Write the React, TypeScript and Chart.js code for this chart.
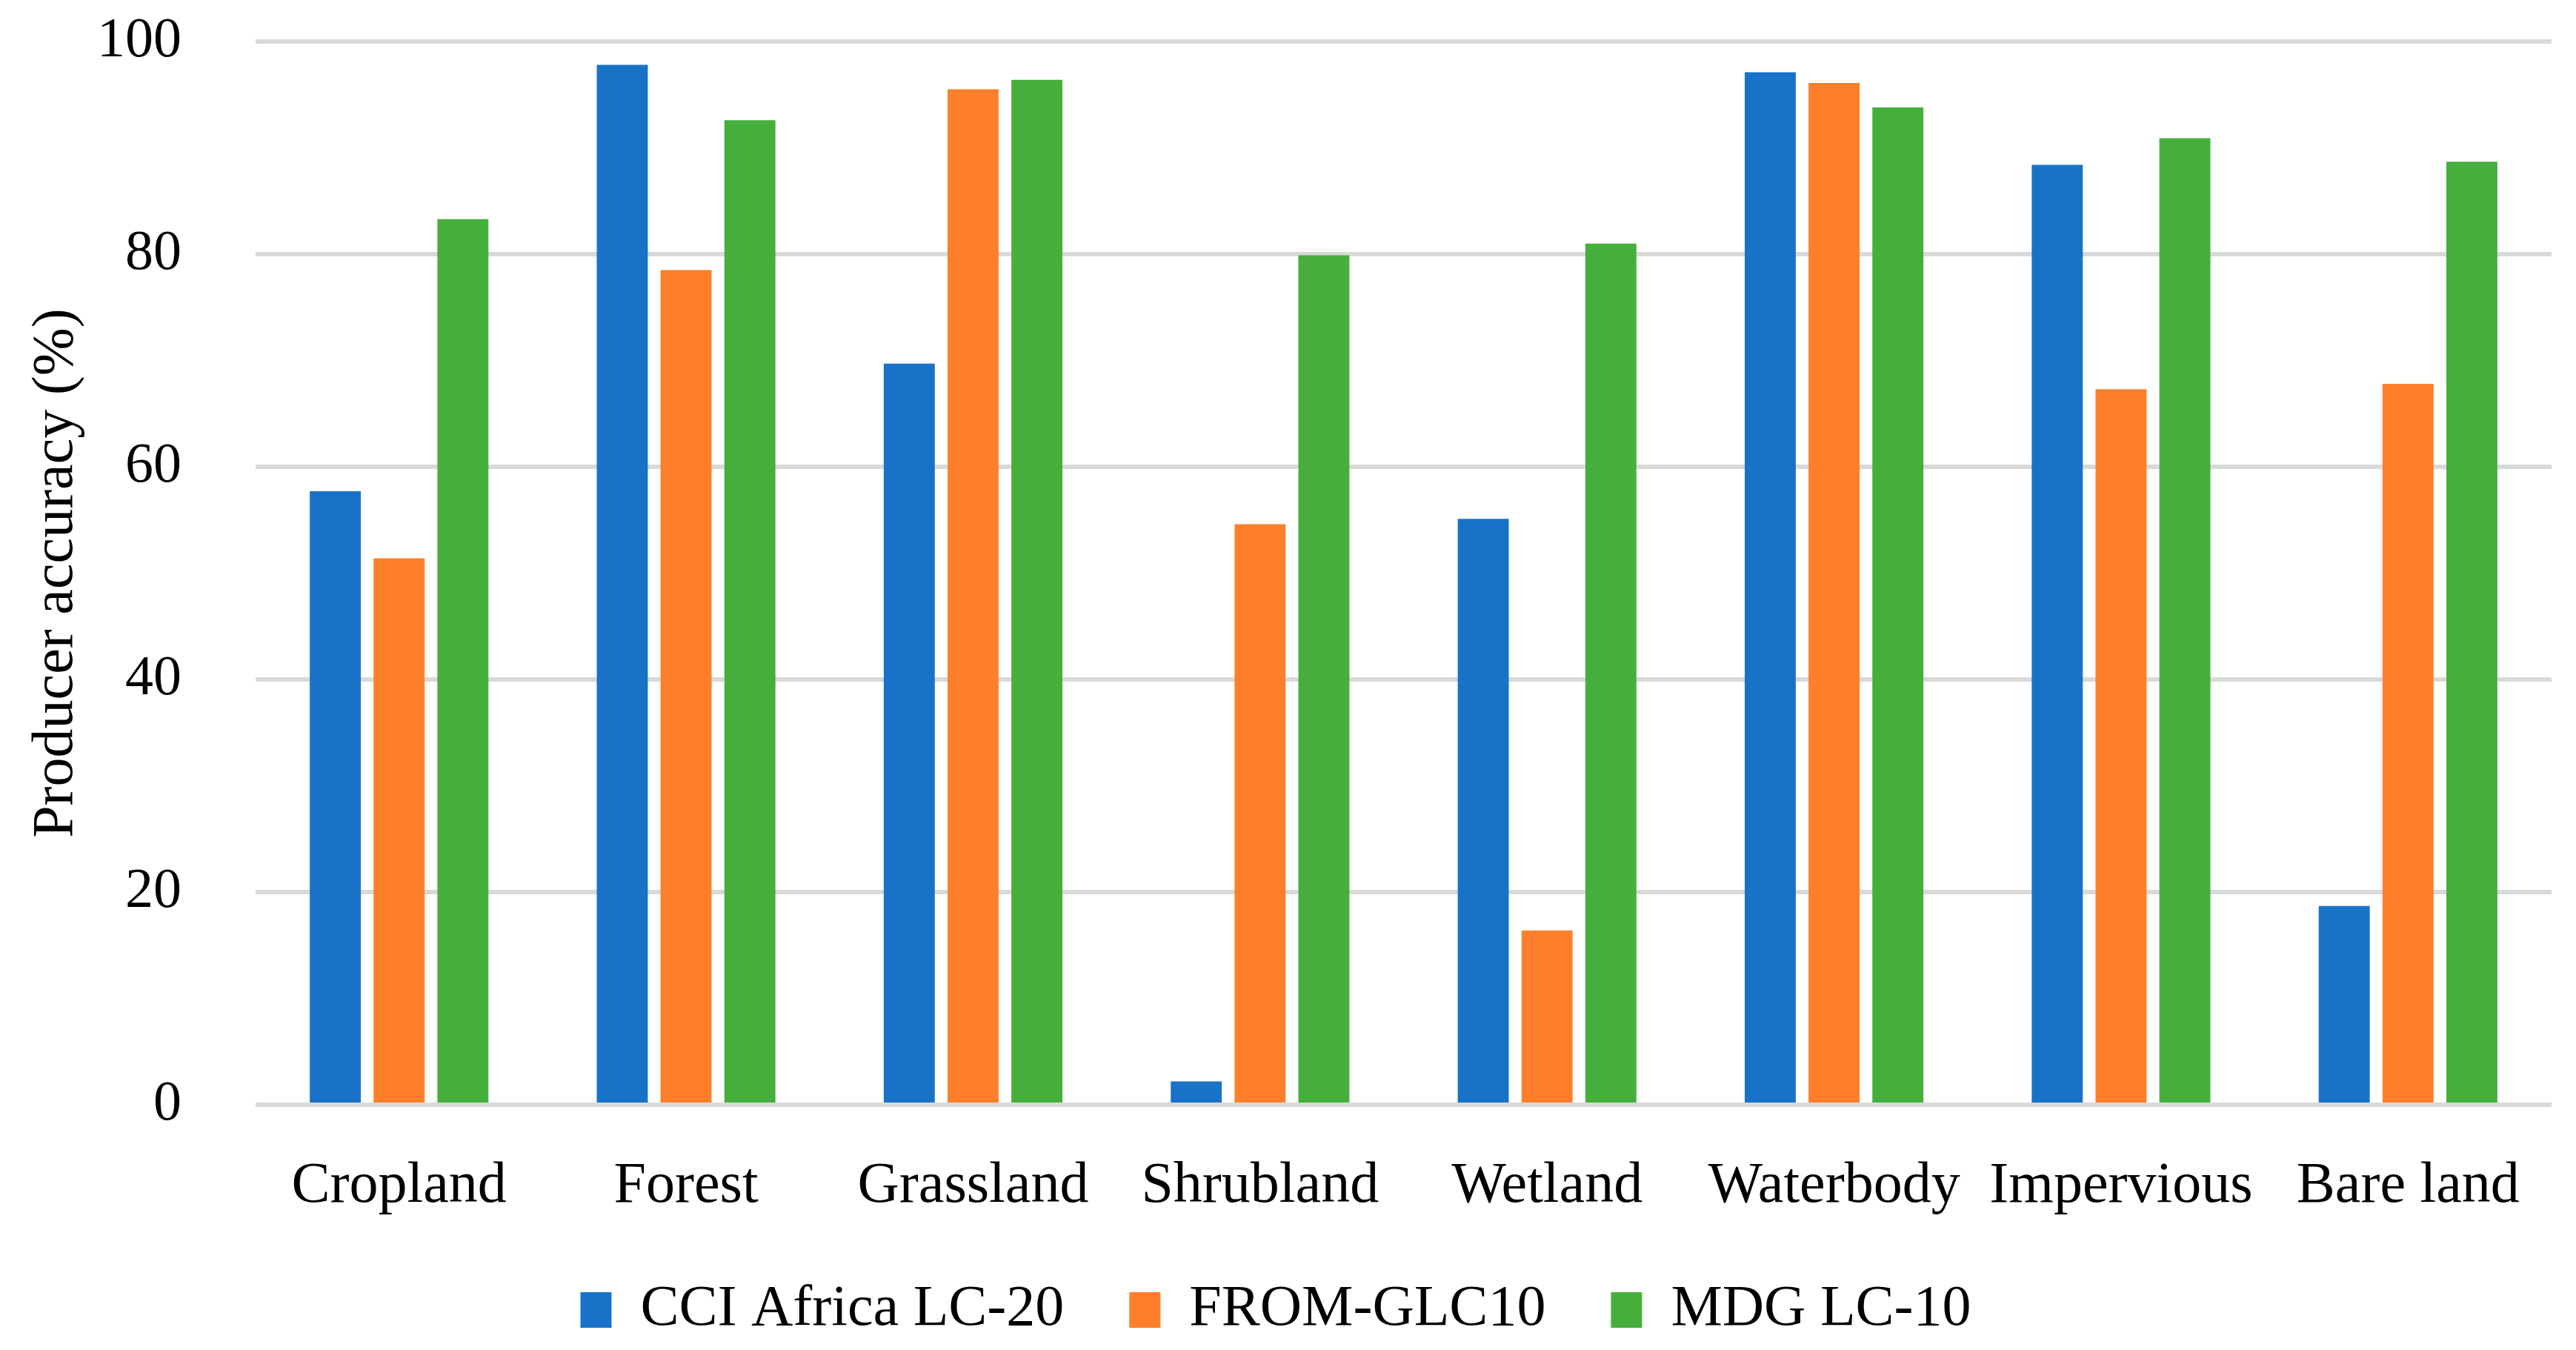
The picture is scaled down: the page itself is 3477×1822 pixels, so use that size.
import React, { useEffect, useRef } from "react";
import { Chart, registerables } from "chart.js";

Chart.register(...registerables);

const categories = ["Cropland", "Forest", "Grassland", "Shrubland", "Wetland", "Waterbody", "Impervious", "Bare land"];
const seriesNames = ["CCI Africa LC-20", "FROM-GLC10", "MDG LC-10"];
const cciValues = [57.7, 97.8, 69.7, 2.2, 55.1, 97.1, 88.4, 18.7];
const fromGlcValues = [51.4, 78.5, 95.5, 54.6, 16.4, 96.1, 67.3, 67.8];
const mdgValues = [83.3, 92.6, 96.4, 79.9, 81.0, 93.8, 90.9, 88.7];
const yTicks = [0, 20, 40, 60, 80, 100];

const FONT = "'Liberation Serif', 'Times New Roman', serif";
const W = 3477;
const H = 1822;

export default function App() {
  const ref = useRef<HTMLCanvasElement | null>(null);

  useEffect(() => {
    if (!ref.current) return;
    const colors = ["#1873C8", "#FE7F2A", "#46AF3C"];
    const values = [cciValues, fromGlcValues, mdgValues];
    const chart = new Chart(ref.current, {
      type: "bar",
      data: {
        labels: categories,
        datasets: seriesNames.map((name, i) => ({
          label: name,
          data: values[i],
          backgroundColor: colors[i],
          borderWidth: 0,
          categoryPercentage: 0.667,
          barPercentage: 0.8,
        })),
      },
      options: {
        animation: false,
        responsive: false,
        devicePixelRatio: 1,
        layout: { padding: { left: 0, right: 33, top: 56, bottom: 5 } },
        plugins: {
          tooltip: { enabled: false },
          legend: {
            position: "bottom",
            labels: {
              color: "#000",
              font: { family: FONT, size: 78 },
              boxWidth: 42,
              boxHeight: 48,
              padding: 10,
              generateLabels: (c: any) => {
                const base = Chart.defaults.plugins.legend.labels.generateLabels(c);
                return base.map((l: any, i: number) => ({
                  ...l,
                  text: i < base.length - 1 ? l.text + "\u00a0\u00a0\u00a0\u00a0" : l.text,
                  lineWidth: 0,
                }));
              },
            },
          },
        },
        scales: {
          x: {
            grid: { display: false, drawTicks: false },
            border: { display: false },
            ticks: {
              color: "#000",
              font: { family: FONT, size: 78 },
              padding: 64,
              maxRotation: 0,
              autoSkip: false,
            },
            afterFit: (s: any) => {
              s.height = 228;
              s.paddingLeft = 0;
              s.paddingRight = 0;
            },
          },
          y: {
            min: 0,
            max: 100,
            afterBuildTicks: (s: any) => {
              s.ticks = yTicks.map((v) => ({ value: v }));
            },
            grid: { color: "#D9D9D9", lineWidth: 6, drawTicks: false },
            border: { display: false },
            ticks: {
              color: "#000",
              font: { family: FONT, size: 76 },
              padding: 100,
            },
            title: {
              display: true,
              text: "Producer accuracy (%)",
              color: "#000",
              font: { family: FONT, size: 78 },
              padding: { top: 30, bottom: 0 },
            },
            afterFit: (s: any) => {
              s.width = 345;
              s.paddingTop = 0;
              s.paddingBottom = 0;
            },
          },
        },
      },
    });
    return () => chart.destroy();
  }, []);

  return (
    <div style={{ position: "fixed", left: 0, top: 0, width: W, height: H, background: "#fff" }}>
      <canvas ref={ref} width={W} height={H} style={{ width: W, height: H, display: "block" }} />
    </div>
  );
}
